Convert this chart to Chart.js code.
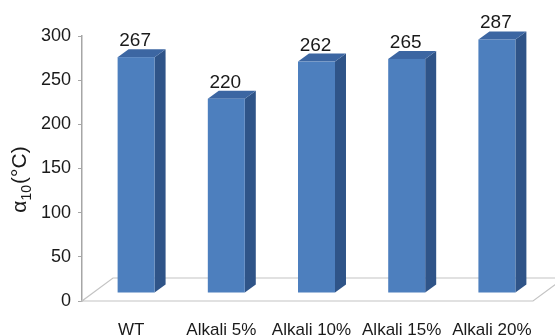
<!DOCTYPE html>
<html>
<head>
<meta charset="utf-8">
<script src="https://cdn.jsdelivr.net/npm/chart.js@4.4.1/dist/chart.umd.min.js"></script>
<style>
  html, body { margin: 0; padding: 0; background: #fff; }
  #wrap { width: 555px; height: 335px; }
</style>
</head>
<body>
<div id="wrap"><canvas id="chart" width="555" height="335"></canvas></div>
<script>
// Chart data
const categories = ['WT', 'Alkali 5%', 'Alkali 10%', 'Alkali 15%', 'Alkali 20%'];
const alpha10 = [267, 220, 262, 265, 287];
const yMin = 0, yMax = 300, yStep = 50;

const FONT = "'Liberation Sans', Arial, sans-serif";
const COLORS = { front: '#4d7fbe', side: '#2f5488', top: '#3c66a2', floor: '#c4c4c4', axis: '#a6a6a6', text: '#1a1a1a' };

// 3D offsets (pixels): bar front face relative to axis plane, bar depth, floor depth
const FRONT = { dx: 9, dy: -8 };
const DEPTH = { dx: 11, dy: -8 };
const FLOOR = { dx: 31, dy: -23 };

const bars3d = {
    id: 'bars3d',
    beforeDatasetsDraw(chart) {
        const { ctx, chartArea: a } = chart;
        ctx.save();
        ctx.strokeStyle = COLORS.floor;
        ctx.lineWidth = 1.2;
        ctx.beginPath();
        ctx.moveTo(a.left, a.bottom);
        ctx.lineTo(a.right, a.bottom);
        ctx.lineTo(a.right + FLOOR.dx, a.bottom + FLOOR.dy);
        ctx.lineTo(a.left + FLOOR.dx, a.bottom + FLOOR.dy);
        ctx.closePath();
        ctx.stroke();
        ctx.restore();
    },
    afterDatasetsDraw(chart) {
        const { ctx } = chart;
        const meta = chart.getDatasetMeta(0);
        ctx.save();
        meta.data.forEach((bar, i) => {
            const L = bar.x - bar.width / 2 + FRONT.dx;
            const R = bar.x + bar.width / 2 + FRONT.dx;
            const T = bar.y + FRONT.dy;
            const B = bar.base + FRONT.dy;

            // side face
            ctx.fillStyle = COLORS.side;
            ctx.beginPath();
            ctx.moveTo(R, T);
            ctx.lineTo(R + DEPTH.dx, T + DEPTH.dy);
            ctx.lineTo(R + DEPTH.dx, B + DEPTH.dy);
            ctx.lineTo(R, B);
            ctx.closePath();
            ctx.fill();

            // top face
            ctx.fillStyle = COLORS.top;
            ctx.beginPath();
            ctx.moveTo(L, T);
            ctx.lineTo(R, T);
            ctx.lineTo(R + DEPTH.dx, T + DEPTH.dy);
            ctx.lineTo(L + DEPTH.dx, T + DEPTH.dy);
            ctx.closePath();
            ctx.fill();

            // front face
            ctx.fillStyle = COLORS.front;
            ctx.fillRect(L, T, R - L, B - T);

            // value label
            ctx.fillStyle = COLORS.text;
            ctx.font = '19px ' + FONT;
            ctx.textAlign = 'center';
            ctx.textBaseline = 'alphabetic';
            ctx.fillText(String(alpha10[i]), (L + R) / 2 - 1, T + DEPTH.dy - 3);
        });
        ctx.restore();
    },
    afterDraw(chart) {
        // y axis title: alpha with subscript 10, then (°C)
        const { ctx } = chart;
        ctx.save();
        ctx.translate(26, 180);
        ctx.rotate(-Math.PI / 2);
        ctx.fillStyle = COLORS.text;
        ctx.textBaseline = 'alphabetic';
        ctx.textAlign = 'left';
        const big = '21px ' + FONT, small = '14px ' + FONT;
        ctx.font = big;
        const w1 = ctx.measureText('α').width;
        ctx.font = small;
        const w2 = ctx.measureText('10').width;
        ctx.font = big;
        const w3 = ctx.measureText('(°C)').width;
        let x = -(w1 + w2 + w3) / 2;
        ctx.fillText('α', x, 0);
        x += w1;
        ctx.font = small;
        ctx.fillText('10', x, 5);
        x += w2 + 1;
        ctx.font = big;
        ctx.fillText('(°C)', x, 0);
        ctx.restore();
    }
};

const chart = new Chart(document.getElementById('chart'), {
    type: 'bar',
    data: {
        labels: categories,
        datasets: [{
            data: alpha10,
            backgroundColor: 'rgba(0,0,0,0)',
            borderWidth: 0,
            barPercentage: 0.41,
            categoryPercentage: 1
        }]
    },
    options: {
        responsive: false,
        devicePixelRatio: 1,
        animation: false,
        layout: { padding: { left: 0, right: 22, top: 36, bottom: 0 } },
        plugins: { legend: { display: false }, tooltip: { enabled: false } },
        scales: {
            x: {
                grid: { display: false },
                border: { display: false },
                ticks: {
                    color: COLORS.text,
                    font: { family: FONT, size: 17 },
                    padding: 11,
                    labelOffset: 4,
                    maxRotation: 0,
                    autoSkip: false
                },
                afterFit(scale) { scale.height = 34; }
            },
            y: {
                min: yMin,
                max: yMax,
                ticks: {
                    stepSize: yStep,
                    color: COLORS.text,
                    font: { family: FONT, size: 18 },
                    padding: 7
                },
                grid: { drawOnChartArea: false, tickLength: 4, color: COLORS.axis },
                border: { color: COLORS.axis, width: 1.5 },
                afterFit(scale) { scale.width = 82; }
            }
        }
    },
    plugins: [bars3d]
});
</script>
</body>
</html>
